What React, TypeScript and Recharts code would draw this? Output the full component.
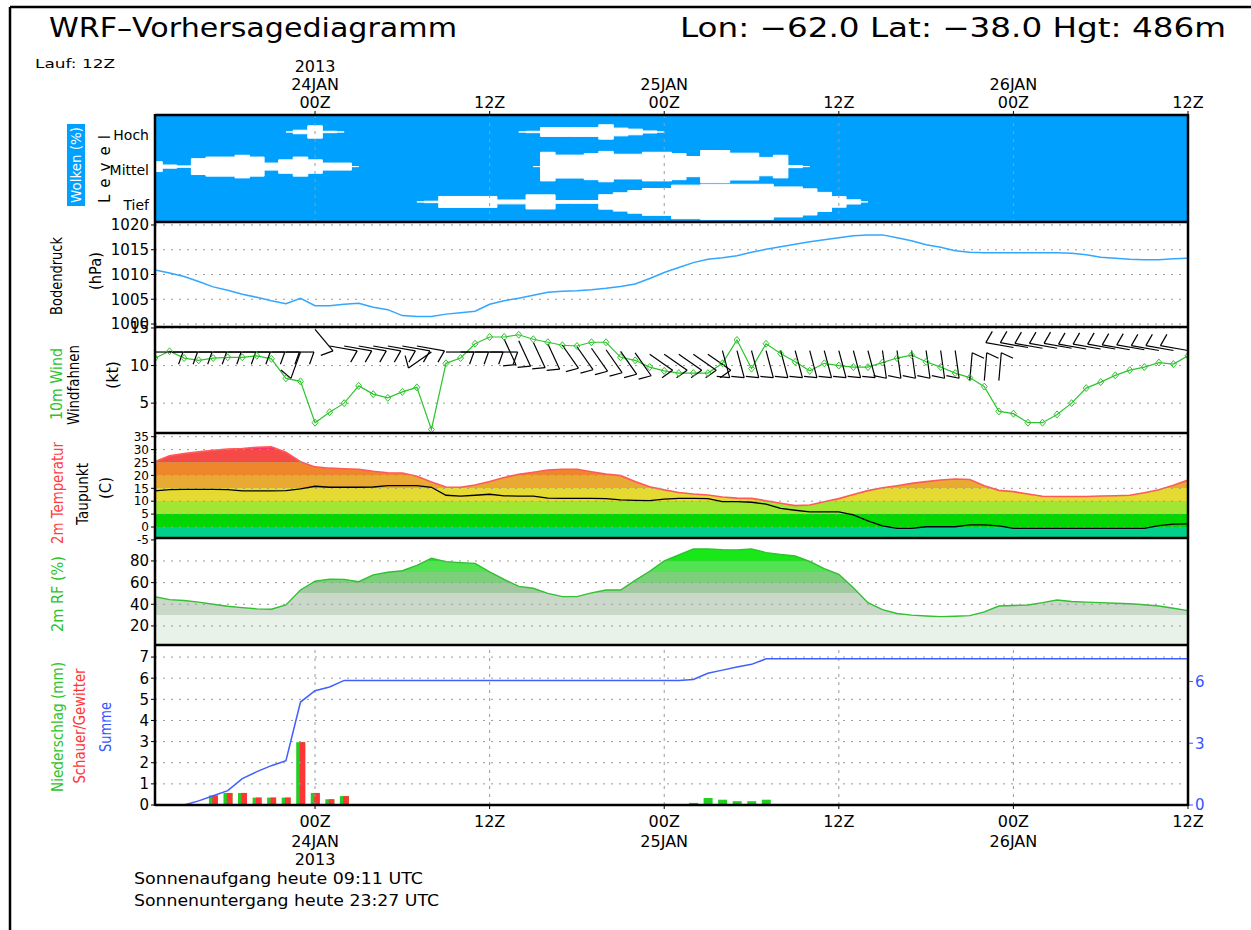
import React from "react";
import { ComposedChart, Line, Area, Bar, XAxis, YAxis, ReferenceLine } from "recharts";

const FONT = "'DejaVu Sans', 'Liberation Sans', sans-serif";
const _ = null;

// Zeitachse: Stunden relativ zu 24JAN 00Z
const HOURS = Array.from({ length: 72 }, (_v, i) => i - 11);
const TIME_TICKS = [0, 12, 24, 36, 48, 60];
const TOP_TIME_LABELS = [["2013", "24JAN", "00Z"], ["12Z"], ["25JAN", "00Z"], ["12Z"], ["26JAN", "00Z"], ["12Z"]];
const BOTTOM_TIME_LABELS = [["00Z", "24JAN", "2013"], ["12Z"], ["00Z", "25JAN"], ["12Z"], ["00Z", "26JAN"], ["12Z"]];
const DAY_LINES = [0, 12, 24, 36, 48];

// Wolken (%) je Level
const CLOUD_LEVELS = ["Tief", "Mittel", "Hoch"];
const CLOUD_CENTER = [0.54, 1.54, 2.52];
const CLOUD_HOCH = [
  _, _, _, _, _, _, _, _, _, 0, 10, 35, 4, 0,
  _, _, _, _, _, _, _, _, _, _, _,
  0, 4, 25, 25, 25, 25, 41, 22, 16, 6, 0,
  _, _, _, _, _, _, _, _, _, _, _, _, _, _, _, _, _, _, _, _, _, _, _, _, _, _, _, _, _, _, _, _, _, _, _, _,
];
const CLOUD_MITTEL = [
  28, 9, 4, 45, 54, 54, 64, 54, 20, 38, 54, 38, 20, 20, 0,
  _, _, _, _, _, _, _, _, _, _, _,
  0, 81, 65, 65, 74, 86, 70, 70, 81, 81, 74, 57, 91, 91, 76, 76, 52, 64, 6, 0,
  _, _, _, _, _, _, _, _, _, _, _, _, _, _, _, _, _, _, _, _, _, _, _, _, _, _,
];
const CLOUD_TIEF = [
  _, _, _, _, _, _, _, _, _, _, _, _, _, _, _, _, _, _,
  0, 4, 31, 31, 31, 31, 11, 11, 40, 40, 8, 8, 8, 41, 52, 64, 76, 76, 95, 95,
  100, 100, 100, 100, 100, 85, 85, 74, 54, 30, 12, 0,
  _, _, _, _, _, _, _, _, _, _, _, _, _, _, _, _, _, _, _, _, _, _,
];

// Bodendruck (hPa)
const PRESSURE = [
  1010.9, 1010.3, 1009.6, 1008.6, 1007.5, 1006.8, 1006.0, 1005.4, 1004.7, 1004.1, 1005.2,
  1003.7, 1003.7, 1004.0, 1004.2, 1003.4, 1002.9, 1001.7, 1001.5, 1001.5, 1002.0, 1002.3, 1002.6,
  1004.0, 1004.7, 1005.2, 1005.8, 1006.4, 1006.6, 1006.7, 1006.9, 1007.2, 1007.6, 1008.1, 1009.2,
  1010.4, 1011.4, 1012.4, 1013.1, 1013.4, 1013.8, 1014.5, 1015.1, 1015.6, 1016.1, 1016.6, 1017.0,
  1017.4, 1017.8, 1018.0, 1018.0, 1017.4, 1016.8, 1016.0, 1015.5, 1014.8, 1014.5, 1014.4, 1014.4,
  1014.4, 1014.4, 1014.4, 1014.4, 1014.3, 1014.0, 1013.5, 1013.3, 1013.1, 1013.0, 1013.0, 1013.2, 1013.3,
];

// 10m Wind (kt) und Windfahnen
const WIND_SPEED = [
  11.0, 11.9, 11.0, 10.7, 11.0, 11.1, 11.1, 11.3, 10.9, 8.3, 7.9,
  2.4, 3.8, 5.0, 7.3, 6.2, 5.7, 6.5, 7.1, 1.5, 10.3, 11.0, 12.9,
  13.8, 13.8, 14.1, 13.5, 13.1, 12.7, 12.6, 13.1, 13.1, 11.1, 10.7, 9.8,
  9.3, 9.0, 9.0, 9.0, 10.3, 13.4, 9.6, 12.9, 11.6, 10.5, 9.3, 10.3,
  10.0, 9.8, 9.8, 10.4, 11.0, 11.4, 10.5, 9.8, 9.0, 8.4, 7.2, 3.9,
  3.6, 2.4, 2.4, 3.5, 5.0, 7.0, 7.8, 8.7, 9.4, 9.8, 10.4, 10.2, 11.3,
];
const BARB_LEVEL = [
  11.8, 11.8, 11.8, 11.8, 11.8, 11.8, 11.8, 11.8, 11.8, 11.8, 11.8,
  14.8, 12.6, 12.6, 12.6, 12.6, 12.6, 12.6, 12.6, 11.8, 11.8, 11.8, 11.8, 11.8,
  13.5, 13.3, 13.1, 12.9, 12.7, 12.5, 12.3, 12.1, 11.9, 11.7,
  11.5, 11.5, 11.5, 11.5, 11.5,
  12, 12, 12, 12, 12, 12, 12, 12, 12, 12, 12, 12, 12, 12, 12, 12, 12,
  8, 8, 8,
  12.4, 12.4, 12.3, 12.3, 12.3, 12.2, 12.2, 12.2, 12.1, 12.1, 12.0, 12.0, 12.0,
];
const BARB_DIR = [
  90, 90, 90, 90, 90, 90, 90, 90, 90, 90, 200,
  140, 100, 100, 100, 100, 100, 100, 100, 235, 90, 90, 90, 90,
  155, 155, 155, 155, 145, 145, 145, 145, 145, 145,
  125, 125, 125, 125, 125,
  165, 165, 165, 165, 165, 165, 165, 165, 165, 165, 165, 172, 172, 172, 172, 172, 172,
  5, 5, 5,
  280, 280, 280, 280, 280, 280, 280, 280, 280, 280, 280, 280, 280,
];

// 2m Temperatur und Taupunkt (C)
const TEMP = [
  25.3, 27.6, 28.5, 29.1, 29.7, 30.2, 30.4, 30.9, 31.1, 29.0, 25.3,
  23.3, 22.8, 22.6, 22.4, 21.6, 21.0, 20.9, 19.7, 17.4, 15.5, 15.4, 16.3,
  17.6, 19.2, 20.4, 21.2, 22.1, 22.4, 22.4, 21.4, 20.5, 19.9, 17.6, 15.6,
  14.4, 13.4, 12.8, 12.4, 11.6, 11.2, 11.1, 10.2, 9.2, 8.3, 8.5, 9.8,
  11.0, 12.6, 14.1, 15.2, 16.0, 16.9, 17.6, 18.2, 18.6, 18.4, 16.0, 14.2,
  13.7, 12.8, 11.9, 11.8, 11.8, 11.8, 12.0, 12.1, 12.3, 13.3, 14.4, 16.2, 18.2,
];
const DEWPOINT = [
  14.0, 14.5, 14.6, 14.6, 14.6, 14.5, 14.0, 14.0, 14.0, 14.1, 14.8,
  15.8, 15.4, 15.4, 15.4, 15.5, 16.0, 16.0, 16.0, 15.4, 12.3, 12.0, 12.3,
  12.7, 12.1, 12.0, 12.0, 11.2, 11.1, 11.1, 11.1, 11.0, 10.5, 10.3, 10.2,
  10.8, 11.1, 11.1, 11.0, 9.8, 9.8, 9.6, 8.9, 7.2, 6.5, 5.9, 5.9,
  5.9, 4.7, 2.4, 0.4, -0.5, -0.5, 0.1, 0.1, 0.1, 0.8, 0.8, 0.4,
  -0.5, -0.5, -0.5, -0.5, -0.5, -0.5, -0.5, -0.5, -0.5, -0.5, 0.5, 1.1, 1.2,
];

// 2m RF (%)
const RH = [
  47.0, 44.3, 43.5, 42.0, 40.0, 38.2, 36.9, 35.8, 35.4, 39.4, 53.2,
  61.3, 63.2, 63.0, 60.8, 67.1, 69.6, 71.0, 76.0, 82.5, 79.4, 78.5, 77.8,
  70.0, 63.0, 56.5, 54.8, 50.0, 47.1, 47.1, 50.5, 53.2, 53.2, 62.0, 70.5,
  80.0, 85.5, 91.1, 91.1, 90.5, 90.2, 91.1, 87.7, 86.0, 84.6, 79.5, 73.0,
  67.7, 55.3, 41.5, 35.0, 31.5, 30.0, 29.2, 28.6, 29.0, 29.5, 33.0, 38.4,
  38.9, 39.4, 41.5, 44.0, 42.6, 42.0, 41.5, 41.0, 40.5, 39.5, 38.4, 36.3, 34.1,
];

// Niederschlag (mm), Schauer/Gewitter, Summe
const PRECIP_HOURS = [-7, -6, -5, -4, -3, -2, -1, 0, 1, 2, 26, 27, 28, 29, 30, 31];
const PRECIP_MM = [0.45, 0.57, 0.57, 0.35, 0.35, 0.35, 2.97, 0.57, 0.27, 0.42, 0.1, 0.33, 0.25, 0.18, 0.18, 0.25];
const SHOWER_MM = [0.45, 0.57, 0.57, 0.35, 0.35, 0.35, 2.97, 0.57, 0.27, 0.42, 0, 0, 0, 0, 0, 0];
const PRECIP_SUM = [
  0, 0, 0, 0.2, 0.45, 0.7, 1.28, 1.62, 1.91, 2.15, 5.0,
  5.55, 5.73, 6.05, 6.05, 6.05, 6.05, 6.05, 6.05, 6.05, 6.05, 6.05, 6.05,
  6.05, 6.05, 6.05, 6.05, 6.05, 6.05, 6.05, 6.05, 6.05, 6.05, 6.05, 6.05,
  6.05, 6.05, 6.1, 6.4, 6.55, 6.7, 6.83, 7.1, 7.1, 7.1, 7.1, 7.1,
  7.1, 7.1, 7.1, 7.1, 7.1, 7.1, 7.1, 7.1, 7.1, 7.1, 7.1, 7.1,
  7.1, 7.1, 7.1, 7.1, 7.1, 7.1, 7.1, 7.1, 7.1, 7.1, 7.1, 7.1, 7.1,
];

const PRES_TICKS = [1000, 1005, 1010, 1015, 1020];
const WIND_TICKS = [5, 10, 15];
const TEMP_TICKS = [-5, 0, 5, 10, 15, 20, 25, 30, 35];
const RH_TICKS = [20, 40, 60, 80];
const PREC_TICKS = [0, 1, 2, 3, 4, 5, 6, 7];
const SUM_TICKS = [0, 3, 6];

// layout
const WIDTH = 1251;
const LEFT = 155;
const RIGHT = 1188;
const AXIS_W = 40;
const PAD = 10;

const TEMP_DOMAIN: [number, number] = [-4.26, 36.43];
const RH_DOMAIN: [number, number] = [2.4, 101.2];

const TEMP_BANDS = [
  { from: 30, color: "#FF3366" },
  { from: 25, color: "#F54A48" },
  { from: 20, color: "#F0862C" },
  { from: 15, color: "#E8AA32" },
  { from: 10, color: "#E4DA32" },
  { from: 5, color: "#A2E634" },
  { from: 0, color: "#00D600" },
  { from: -Infinity, color: "#00D08C" },
];
const RH_BANDS = [
  { from: 90, color: "#00F000" },
  { from: 80, color: "#18E818" },
  { from: 70, color: "#52E252" },
  { from: 60, color: "#7CD07C" },
  { from: 50, color: "#A2C9A2" },
  { from: 30, color: "#C9D8C9" },
  { from: -Infinity, color: "#E8F2E8" },
];

const band = (c: number | null, center: number) =>
  c == null ? null : [center - c / 200, center + c / 200];

const rows = HOURS.map((t, i) => {
  const k = PRECIP_HOURS.indexOf(t);
  return {
    t,
    hoch: band(CLOUD_HOCH[i], CLOUD_CENTER[2]),
    mittel: band(CLOUD_MITTEL[i], CLOUD_CENTER[1]),
    tief: band(CLOUD_TIEF[i], CLOUD_CENTER[0]),
    p: PRESSURE[i],
    wind: WIND_SPEED[i],
    barbLevel: BARB_LEVEL[i],
    barbDir: BARB_DIR[i],
    temp: TEMP[i],
    dew: DEWPOINT[i],
    rh: RH[i],
    precip: k >= 0 ? PRECIP_MM[k] : null,
    shower: k >= 0 ? SHOWER_MM[k] : 0,
    sum: PRECIP_SUM[i],
  };
});

const margin = (top: number, bottom: number, rightAxis = 0) => ({
  top,
  bottom,
  left: LEFT - AXIS_W,
  right: WIDTH - RIGHT - rightAxis,
});

const tickStyle = { fontSize: 15, fill: "#000", fontFamily: FONT };

function bandStops(bands: { from: number; color: string }[], domain: [number, number]) {
  const [lo, hi] = domain;
  const frac = (v: number) => Math.min(1, Math.max(0, (hi - v) / (hi - lo)));
  const out: React.ReactElement[] = [];
  let prev = 0;
  bands.forEach((b, i) => {
    const end = frac(b.from);
    out.push(<stop key={`${i}a`} offset={prev} stopColor={b.color} />);
    out.push(<stop key={`${i}b`} offset={end} stopColor={b.color} />);
    prev = end;
  });
  return out;
}

function hGrid(values: number[], yAxisId?: string) {
  return values.map((v) => (
    <ReferenceLine key={`h${v}`} y={v} yAxisId={yAxisId} stroke="#9a9a9a" strokeDasharray="2 6" />
  ));
}
function vGrid(yAxisId?: string) {
  return DAY_LINES.map((v) => (
    <ReferenceLine key={`v${v}`} x={v} yAxisId={yAxisId} stroke="#9a9a9a" strokeDasharray="3 5" />
  ));
}

const TimeTick = (props: any) => {
  const { x, y, payload, top } = props;
  const idx = TIME_TICKS.indexOf(payload.value);
  const labels = (top ? TOP_TIME_LABELS : BOTTOM_TIME_LABELS)[idx] ?? [];
  const lines = top ? [...labels].reverse() : labels;
  const offs = top ? [-1, -19, -37] : [16, 35.5, 54];
  return (
    <g>
      {lines.map((s: string, i: number) => (
        <text key={i} x={x} y={y + offs[i]} textAnchor="middle" fontSize={16} fontFamily={FONT} fill="#000">
          {s}
        </text>
      ))}
    </g>
  );
};

const CloudTick = (props: any) => {
  const { x, y, payload } = props;
  const label = CLOUD_LEVELS[CLOUD_CENTER.indexOf(payload.value)];
  return (
    <text x={x} y={y + 8} textAnchor="end" fontSize={14} fontFamily={FONT} fill="#000">
      {label}
    </text>
  );
};

const STAFF = 28;
const FEATHER = 13;
const Barb = ({ cx, cy, dir }: { cx: number; cy: number; dir: number }) => {
  if (cx == null || cy == null) return null;
  const a = (dir * Math.PI) / 180;
  const dx = Math.sin(a);
  const dy = -Math.cos(a);
  const ex = cx + dx * STAFF;
  const ey = cy + dy * STAFF;
  const px = -dy;
  const py = dx;
  const fx = ex + (px * 0.94 - dx * 0.34) * FEATHER;
  const fy = ey + (py * 0.94 - dy * 0.34) * FEATHER;
  return (
    <g>
      <line x1={cx} y1={cy} x2={ex} y2={ey} stroke="#000" strokeWidth={1.2} />
      <line x1={ex} y1={ey} x2={fx} y2={fy} stroke="#000" strokeWidth={1.2} />
    </g>
  );
};

const Diamond = ({ cx, cy }: { cx: number; cy: number }) => {
  if (cx == null || cy == null) return null;
  return (
    <polygon
      points={`${cx},${cy - 3.5} ${cx + 3},${cy} ${cx},${cy + 3.5} ${cx - 3},${cy}`}
      fill="none"
      stroke="#2EC42E"
      strokeWidth={1}
    />
  );
};

const PrecipShape = (props: any) => {
  const { x, y, width, height, payload } = props;
  if (!height || height <= 0 || !payload) return <g />;
  const redH = payload.precip ? (height * (payload.shower || 0)) / payload.precip : 0;
  return (
    <g>
      <rect x={x} y={y} width={width} height={height} fill="#22CE22" />
      {redH > 0 && (
        <rect x={x + width * 0.38} y={y + height - redH} width={width * 0.62} height={redH} fill="#FF3434" />
      )}
    </g>
  );
};

const hiddenX = <XAxis type="number" dataKey="t" domain={[-11, 60]} hide allowDataOverflow />;

const Panel = ({ top, children }: { top: number; children: React.ReactNode }) => (
  <div style={{ position: "absolute", left: 0, top }}>{children}</div>
);

const VLabel = ({ x, y, len, color = "#000", size = 15, children }: any) => (
  <text
    transform={`translate(${x},${y}) rotate(-90)`}
    textAnchor="middle"
    dominantBaseline="central"
    fontSize={size}
    fontFamily={FONT}
    fill={color}
    textLength={len}
    lengthAdjust="spacingAndGlyphs"
  >
    {children}
  </text>
);

export default function App() {
  const tempH = 105;
  const rhH = 107;
  return (
    <div
      style={{
        position: "absolute",
        left: 0,
        top: 0,
        width: 1251,
        height: 930,
        overflow: "hidden",
        background: "#fff",
        fontFamily: FONT,
      }}
    >
      <div style={{ position: "absolute", left: LEFT, top: 115, width: RIGHT - LEFT, height: 106, background: "#00A0FF" }} />

      {/* Wolken */}
      <Panel top={55}>
        <ComposedChart width={WIDTH} height={60 + 106 + PAD} data={rows} margin={margin(0, PAD)}>
          <XAxis
            type="number"
            dataKey="t"
            domain={[-11, 60]}
            ticks={TIME_TICKS}
            orientation="top"
            height={60}
            axisLine={false}
            tickLine={{ stroke: "#000" }}
            tickSize={4}
            interval={0}
            tick={<TimeTick top />}
            allowDataOverflow
          />
          <YAxis
            domain={[0, 3]}
            ticks={CLOUD_CENTER}
            interval={0}
            width={AXIS_W}
            axisLine={false}
            tickLine={false}
            tickSize={4}
            tick={<CloudTick />}
            allowDataOverflow
          />
          <Area type="step" dataKey="tief" fill="#fff" fillOpacity={1} stroke="#fff" strokeWidth={1} isAnimationActive={false} />
          <Area type="step" dataKey="mittel" fill="#fff" fillOpacity={1} stroke="#fff" strokeWidth={1} isAnimationActive={false} />
          <Area type="step" dataKey="hoch" fill="#fff" fillOpacity={1} stroke="#fff" strokeWidth={1} isAnimationActive={false} />
          {vGrid()}
        </ComposedChart>
      </Panel>

      {/* Bodendruck */}
      <Panel top={222 - PAD}>
        <ComposedChart width={WIDTH} height={105 + 2 * PAD} data={rows} margin={margin(PAD, PAD)}>
          {hiddenX}
          <YAxis domain={[999.4, 1020.6]} ticks={PRES_TICKS} interval={0} width={AXIS_W} axisLine={false} tickSize={4} tickLine={{ stroke: "#000" }} tick={tickStyle} allowDataOverflow />
          {hGrid(PRES_TICKS)}
          <Line type="linear" dataKey="p" stroke="#33A6FF" strokeWidth={1.5} dot={false} isAnimationActive={false} />
        </ComposedChart>
      </Panel>

      {/* Wind */}
      <Panel top={327 - PAD}>
        <ComposedChart width={WIDTH} height={106 + 2 * PAD} data={rows} margin={margin(PAD, PAD)}>
          {hiddenX}
          <YAxis domain={[1.03, 15.13]} ticks={WIND_TICKS} interval={0} width={AXIS_W} axisLine={false} tickSize={4} tickLine={{ stroke: "#000" }} tick={tickStyle} allowDataOverflow />
          {hGrid(WIND_TICKS)}
          <Line
            dataKey="barbLevel"
            stroke="none"
            isAnimationActive={false}
            activeDot={false}
            dot={(p: any) => <Barb key={`b${p.index}`} cx={p.cx} cy={p.cy} dir={p.payload.barbDir} />}
          />
          <Line
            type="linear"
            dataKey="wind"
            stroke="#2EC42E"
            strokeWidth={1.2}
            isAnimationActive={false}
            activeDot={false}
            dot={(p: any) => <Diamond key={`d${p.index}`} cx={p.cx} cy={p.cy} />}
          />
        </ComposedChart>
      </Panel>

      {/* Temperatur */}
      <Panel top={433 - PAD}>
        <ComposedChart width={WIDTH} height={tempH + 2 * PAD} data={rows} margin={margin(PAD, PAD)}>
          <defs>
            <linearGradient id="tempBands" gradientUnits="userSpaceOnUse" x1={0} x2={0} y1={PAD} y2={PAD + tempH}>
              {bandStops(TEMP_BANDS, TEMP_DOMAIN)}
            </linearGradient>
          </defs>
          {hiddenX}
          <YAxis domain={TEMP_DOMAIN} ticks={TEMP_TICKS} interval={0} width={AXIS_W} axisLine={false} tickSize={4} tickLine={{ stroke: "#000" }} tick={{ ...tickStyle, fontSize: 12 }} allowDataOverflow />
          <Area type="linear" dataKey="temp" baseValue={TEMP_DOMAIN[0]} fill="url(#tempBands)" fillOpacity={1} stroke="#FF5A5A" strokeWidth={1.6} isAnimationActive={false} />
          {hGrid(TEMP_TICKS)}
          <Line type="linear" dataKey="dew" stroke="#000" strokeWidth={1.3} dot={false} isAnimationActive={false} />
        </ComposedChart>
      </Panel>

      {/* RF */}
      <Panel top={538 - PAD}>
        <ComposedChart width={WIDTH} height={rhH + 2 * PAD} data={rows} margin={margin(PAD, PAD)}>
          <defs>
            <linearGradient id="rhBands" gradientUnits="userSpaceOnUse" x1={0} x2={0} y1={PAD} y2={PAD + rhH}>
              {bandStops(RH_BANDS, RH_DOMAIN)}
            </linearGradient>
          </defs>
          {hiddenX}
          <YAxis domain={RH_DOMAIN} ticks={RH_TICKS} interval={0} width={AXIS_W} axisLine={false} tickSize={4} tickLine={{ stroke: "#000" }} tick={tickStyle} allowDataOverflow />
          <Area type="linear" dataKey="rh" baseValue={RH_DOMAIN[0]} fill="url(#rhBands)" fillOpacity={1} stroke="#30C030" strokeWidth={1.4} isAnimationActive={false} />
          {hGrid(RH_TICKS)}
        </ComposedChart>
      </Panel>

      {/* Niederschlag */}
      <Panel top={645 - PAD}>
        <ComposedChart width={WIDTH} height={PAD + 160 + 64} data={rows} margin={margin(PAD, 0, 30)}>
          <XAxis
            type="number"
            dataKey="t"
            domain={[-11, 60]}
            ticks={TIME_TICKS}
            orientation="bottom"
            height={64}
            axisLine={false}
            tickLine={{ stroke: "#000" }}
            tickSize={4}
            interval={0}
            tick={<TimeTick />}
            allowDataOverflow
          />
          <YAxis yAxisId="left" domain={[0, 7.57]} ticks={PREC_TICKS} interval={0} width={AXIS_W} axisLine={false} tickSize={4} tickLine={{ stroke: "#000" }} tick={tickStyle} allowDataOverflow />
          <YAxis
            yAxisId="right"
            orientation="right"
            domain={[0, 7.77]}
            ticks={SUM_TICKS}
            interval={0}
            width={30}
            axisLine={false}
            tickSize={5}
            tickLine={{ stroke: "#3355FF" }}
            tick={{ ...tickStyle, fill: "#3355FF" }}
            allowDataOverflow
          />
          {hGrid([1, 2, 3, 4, 5, 6, 7], "left")}
          {vGrid("left")}
          <Bar yAxisId="left" dataKey="precip" barSize={9} shape={(p: any) => <PrecipShape {...p} />} isAnimationActive={false} />
          <Line yAxisId="right" type="linear" dataKey="sum" stroke="#3F5FFF" strokeWidth={1.5} dot={false} isAnimationActive={false} />
        </ComposedChart>
      </Panel>

      {/* Rahmen, Titel, Achsentitel */}
      <svg width={1251} height={930} style={{ position: "absolute", left: 0, top: 0, pointerEvents: "none" }}>
        <line x1={10} y1={7} x2={1251} y2={7} stroke="#000" strokeWidth={2.5} />
        <line x1={10} y1={7} x2={10} y2={930} stroke="#000" strokeWidth={2.5} />

        {[115, 222, 327, 433, 538, 645, 805].map((y) => (
          <line key={y} x1={LEFT} y1={y} x2={RIGHT} y2={y} stroke="#000" strokeWidth={2.5} />
        ))}
        <line x1={LEFT} y1={114} x2={LEFT} y2={806} stroke="#000" strokeWidth={2.5} />
        <line x1={RIGHT} y1={114} x2={RIGHT} y2={806} stroke="#000" strokeWidth={2.5} />

        <text x={49} y={37} fontSize={27} fontFamily={FONT} textLength={408} lengthAdjust="spacingAndGlyphs">
          WRF–Vorhersagediagramm
        </text>
        <text x={680} y={37} fontSize={27} fontFamily={FONT} textLength={546} lengthAdjust="spacingAndGlyphs">
          Lon: −62.0 Lat: −38.0 Hgt: 486m
        </text>
        <text x={35} y={68} fontSize={13} fontFamily={FONT} textLength={80} lengthAdjust="spacingAndGlyphs">
          Lauf: 12Z
        </text>

        <rect x={67} y={124} width={18} height={82} fill="#00A0FF" />
        <VLabel x={76} y={165} len={76} color="#fff" size={14}>Wolken (%)</VLabel>
        <text
          transform="translate(105,169) rotate(-90)"
          textAnchor="middle"
          dominantBaseline="central"
          fontSize={15}
          fontFamily={FONT}
          textLength={68}
          lengthAdjust="spacing"
        >
          Level
        </text>

        <VLabel x={57} y={276} len={78}>Bodendruck</VLabel>
        <VLabel x={96} y={271} len={38}>(hPa)</VLabel>

        <VLabel x={57} y={384} len={72} color="#2EC42E">10m Wind</VLabel>
        <VLabel x={74} y={385} len={80}>Windfahnen</VLabel>
        <VLabel x={113} y={375} len={28}>(kt)</VLabel>

        <VLabel x={58} y={493} len={102} color="#FF4040">2m Temperatur</VLabel>
        <VLabel x={83} y={494} len={62}>Taupunkt</VLabel>
        <VLabel x={106} y={488} len={22}>(C)</VLabel>

        <VLabel x={58} y={594} len={76} color="#2EC42E">2m RF (%)</VLabel>

        <VLabel x={58} y={727} len={130} color="#2EC42E">Niederschlag (mm)</VLabel>
        <VLabel x={80} y={726} len={115} color="#FF3434">Schauer/Gewitter</VLabel>
        <VLabel x={106} y={727} len={50} color="#3355FF">Summe</VLabel>

        <text x={134} y={884} fontSize={16} fontFamily={FONT} textLength={289} lengthAdjust="spacingAndGlyphs">
          Sonnenaufgang heute 09:11 UTC
        </text>
        <text x={134} y={906} fontSize={16} fontFamily={FONT} textLength={305} lengthAdjust="spacingAndGlyphs">
          Sonnenuntergang heute 23:27 UTC
        </text>
      </svg>
    </div>
  );
}
